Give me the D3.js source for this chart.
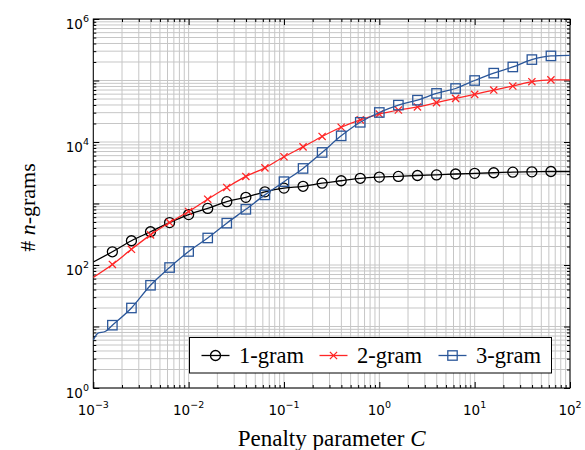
<!DOCTYPE html>
<html><head><meta charset="utf-8">
<script src="https://cdn.jsdelivr.net/npm/d3@7"></script>
<style>body{margin:0;background:#fff}</style>
</head><body>
<svg id="chart" width="585" height="450"></svg>
<script>
// ---- data ----
const C = [0.001, 0.001585, 0.002512, 0.003981, 0.00631, 0.01, 0.01585, 0.02512, 0.03981, 0.0631,
           0.1, 0.1585, 0.2512, 0.3981, 0.631, 1, 1.585, 2.512, 3.981, 6.31,
           10, 15.85, 25.12, 39.81, 63.1, 100];
const unigram = [112, 164, 248, 347, 490, 661, 832, 1072, 1259, 1549,
                 1778, 1905, 2138, 2344, 2570, 2690, 2754, 2851, 2917, 3020,
                 3090, 3162, 3236, 3273, 3311, 3311];
const bigram = [63, 102, 180, 309, 490, 741, 1175, 1820, 2754, 3802,
                5754, 8318, 12300, 17380, 22900, 28500, 33100, 37150, 43600, 51300,
                59600, 70000, 81300, 95500, 102300, 102300];
const trigram = [6.0, 10.5, 20, 46.8, 91, 166, 275, 479, 804, 1380,
                 2265, 3715, 6760, 12590, 20900, 30200, 39800, 47900, 61700, 74100,
                 100000, 131800, 166000, 218800, 251200, 257000];
const trigramEarlyC = [0.00112, 0.00133];
const trigramEarly = [7.8, 8.3];
const seriesNames = ["1-gram", "2-gram", "3-gram"];
const seriesColors = ["#000000", "#ff2626", "#2b579a"];
const xTickExps = [-3, -2, -1, 0, 1, 2];
const yTickExps = [0, 2, 4, 6];

// ---- layout ----
const svg = d3.select("#chart");
const L = 93.3, R = 570, T = 19, B = 388;
const x = d3.scaleLog().domain([1e-3, 1e2]).range([L, R]);
const y = d3.scaleLog().domain([1e0, 1e6]).range([B, T]);

// grid values
const xAll = [], yAll = [];
for (let e = -3; e < 2; e++) for (let m = 1; m <= 9; m++) xAll.push(m * Math.pow(10, e));
xAll.push(100);
for (let e = 0; e < 6; e++) for (let m = 1; m <= 9; m++) yAll.push(m * Math.pow(10, e));
yAll.push(1e6);
const isMajor = v => Math.abs(Math.log10(v) - Math.round(Math.log10(v))) < 1e-9;

const grid = svg.append("g").attr("stroke", "#c6c6c6").attr("stroke-width", 1);
grid.selectAll("line.v").data(xAll).join("line")
  .attr("x1", d => x(d)).attr("x2", d => x(d)).attr("y1", T).attr("y2", B);
grid.selectAll("line.h").data(yAll).join("line")
  .attr("y1", d => y(d)).attr("y2", d => y(d)).attr("x1", L).attr("x2", R);

// axes ticks (inward, all four sides)
function ticks(axisFn, scale, vals, transform) {
  const gMaj = svg.append("g").attr("transform", transform)
    .call(axisFn(scale).tickValues(vals.filter(isMajor)).tickSize(-6).tickFormat(""));
  const gMin = svg.append("g").attr("transform", transform)
    .call(axisFn(scale).tickValues(vals.filter(v => !isMajor(v))).tickSize(-3).tickFormat(""));
  [gMaj, gMin].forEach(g => { g.select(".domain").remove(); g.selectAll("line").attr("stroke", "#000"); });
}
ticks(d3.axisBottom, x, xAll, `translate(0,${B})`);
ticks(d3.axisTop, x, xAll, `translate(0,${T})`);
ticks(d3.axisLeft, y, yAll, `translate(${L},0)`);
ticks(d3.axisRight, y, yAll, `translate(${R},0)`);

// frame
svg.append("rect").attr("x", L).attr("y", T).attr("width", R - L).attr("height", B - T)
  .attr("fill", "none").attr("stroke", "#000").attr("stroke-width", 1);

// tick labels
const tickFont = "DejaVu Sans, sans-serif";
xTickExps.forEach(e => {
  const t = svg.append("text").attr("x", x(Math.pow(10, e))).attr("y", 415)
    .attr("text-anchor", "middle").attr("font-family", tickFont).attr("font-size", 13.5).attr("fill", "#000");
  t.append("tspan").text("10");
  t.append("tspan").attr("dy", -7).attr("font-size", 9.5).text(String(e).replace("-", "\u2212"));
});
yTickExps.forEach(e => {
  const t = svg.append("text").attr("x", 89).attr("y", y(Math.pow(10, e)) + 10)
    .attr("text-anchor", "end").attr("font-family", tickFont).attr("font-size", 13.5).attr("fill", "#000");
  t.append("tspan").text("10");
  t.append("tspan").attr("dy", -7).attr("font-size", 9.5).text(String(e));
});

// axis titles
const serif = "Liberation Serif, Times New Roman, serif";
const xt = svg.append("text").attr("x", (L + R) / 2).attr("y", 446).attr("text-anchor", "middle")
  .attr("font-family", serif).attr("font-size", 23);
xt.append("tspan").text("Penalty parameter ");
xt.append("tspan").attr("font-style", "italic").text("C");
const yt = svg.append("text").attr("transform", `translate(35,${(T + B) / 2 + 4}) rotate(-90)`)
  .attr("text-anchor", "middle").attr("font-family", serif).attr("font-size", 22);
yt.append("tspan").text("# ");
yt.append("tspan").attr("font-style", "italic").text("n");
yt.append("tspan").text("-grams");

// series
const clip = svg.append("clipPath").attr("id", "clip").append("rect")
  .attr("x", L).attr("y", T).attr("width", R - L).attr("height", B - T);
const series = [unigram, bigram, trigram].map((vals, i) => {
  let pts = C.map((c, j) => ({ c, v: vals[j], mark: j > 0 && j < C.length - 1 }));
  if (i === 2) pts = pts.concat(trigramEarlyC.map((c, j) => ({ c, v: trigramEarly[j], mark: false })))
    .sort((a, b) => a.c - b.c);
  return { name: seriesNames[i], color: seriesColors[i], pts };
});
const line = d3.line().x(d => x(d.c)).y(d => y(d.v)).curve(d3.curveMonotoneX);
const plot = svg.append("g").attr("clip-path", "url(#clip)");

function marker(g, i, cx, cy, color) {
  if (i === 0) {
    g.append("circle").attr("cx", cx).attr("cy", cy).attr("r", 5)
      .attr("fill", "none").attr("stroke", color).attr("stroke-width", 1.3);
  } else if (i === 1) {
    const s = 3.6;
    g.append("path").attr("d", `M${cx - s},${cy - s}L${cx + s},${cy + s}M${cx - s},${cy + s}L${cx + s},${cy - s}`)
      .attr("stroke", color).attr("stroke-width", 1.3).attr("fill", "none");
  } else {
    g.append("rect").attr("x", cx - 4.7).attr("y", cy - 4.7).attr("width", 9.4).attr("height", 9.4)
      .attr("fill", "none").attr("stroke", color).attr("stroke-width", 1.3);
  }
}

series.forEach((s, i) => {
  plot.append("path").datum(s.pts).attr("d", line).attr("fill", "none")
    .attr("stroke", s.color).attr("stroke-width", 1.3);
  const mg = plot.append("g");
  s.pts.filter(p => p.mark).forEach(p => marker(mg, i, x(p.c), y(p.v), s.color));
});

// legend
const lg = svg.append("g");
lg.append("rect").attr("x", 189.5).attr("y", 337.5).attr("width", 362).attr("height", 35.5)
  .attr("fill", "#fff").attr("stroke", "#000").attr("stroke-width", 1);
const legendX = [201.5, 319.5, 438.5];
series.forEach((s, i) => {
  const lx = legendX[i], ly = 355.5;
  lg.append("line").attr("x1", lx).attr("x2", lx + 28).attr("y1", ly).attr("y2", ly)
    .attr("stroke", s.color).attr("stroke-width", 1.3);
  marker(lg, i, lx + 14, ly, s.color);
  lg.append("text").attr("x", lx + 37.5).attr("y", ly + 7.5).attr("font-family", serif)
    .attr("font-size", 22.5).attr("fill", "#000").text(s.name);
});
</script>
</body></html>
